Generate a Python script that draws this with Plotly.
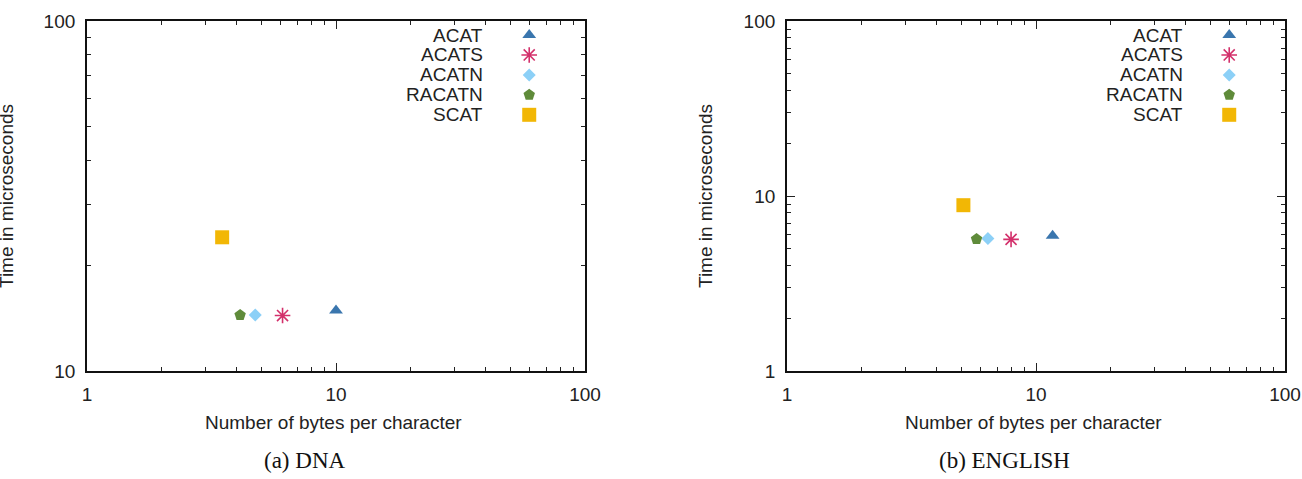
import plotly.graph_objects as go

# ---------------- data ----------------
series = ["ACAT", "ACATS", "ACATN", "RACATN", "SCAT"]
dna_bytes = [10.0, 6.1, 4.74, 4.12, 3.49]
dna_time = [14.9, 14.4, 14.45, 14.45, 24.1]
eng_bytes = [11.66, 7.94, 6.41, 5.77, 5.11]
eng_time = [5.93, 5.65, 5.72, 5.67, 8.86]
panel_titles = ["(a) DNA", "(b) ENGLISH"]
x_title = "Number of bytes per character"
y_title = "Time in microseconds"
x_ticks = [1, 10, 100]
y_ticks_dna = [10, 100]
y_ticks_eng = [1, 10, 100]

# ---------------- style ----------------
colors = {"ACAT": "#3a76ae", "ACATS": "#d3306b", "ACATN": "#8cd0f7",
          "RACATN": "#5f8b3a", "SCAT": "#f2b705"}
symbols = {"ACAT": "triangle-up", "ACATS": "asterisk-open", "ACATN": "diamond",
           "RACATN": "pentagon", "SCAT": "square"}
sizes = {"ACAT": 12, "ACATS": 13, "ACATN": 10, "RACATN": 12, "SCAT": 14}

W, H = 1302, 479
SANS = "Liberation Sans, Arial, Helvetica, sans-serif"
SERIF = "Liberation Serif, Times New Roman, serif"
FS = 19

def px_x(p):
    return p / W

def px_y(p):
    return 1 - p / H

dom_x1 = [px_x(87), px_x(585)]
dom_x2 = [px_x(787), px_x(1285)]
dom_y = [px_y(371), px_y(21)]

fig = go.Figure()

def marker_for(s):
    if s == "ACATS":
        return dict(symbol=symbols[s], size=sizes[s], color=colors[s],
                    line=dict(color=colors[s], width=1.6))
    return dict(symbol=symbols[s], size=sizes[s], color=colors[s],
                line=dict(width=0))

panels = [("x", "y", dna_bytes, dna_time, "x3", "y3"),
          ("x2", "y2", eng_bytes, eng_time, "x4", "y4")]

for xa, ya, xs, ys, lx, ly in panels:
    for i, s in enumerate(series):
        fig.add_trace(go.Scatter(x=[xs[i]], y=[ys[i]], mode="markers",
                                 marker=marker_for(s), xaxis=xa, yaxis=ya,
                                 showlegend=False, name=s))

# manual gnuplot-style legend (text right-aligned, key to the right)
leg_text_x = 0.80
leg_key_x = 0.888
leg_top = 0.96
leg_step = 0.057
for xa, ya, xs, ys, lx, ly in panels:
    for i, s in enumerate(series):
        fig.add_trace(go.Scatter(x=[leg_key_x], y=[leg_top - i * leg_step],
                                 mode="markers", marker=marker_for(s),
                                 xaxis=lx, yaxis=ly, showlegend=False,
                                 hoverinfo="skip"))
        fig.add_annotation(text=s, xref=f"{xa} domain", yref=f"{ya} domain",
                           x=leg_text_x, y=leg_top - i * leg_step,
                           xanchor="right", yanchor="middle", showarrow=False,
                           font=dict(family=SANS, size=FS, color="#222"))

minor_x = [2, 3, 4, 5, 6, 7, 8, 9, 20, 30, 40, 50, 60, 70, 80, 90]
minor_y_dna = [20, 30, 40, 50, 60, 70, 80, 90]
minor_y_eng = [2, 3, 4, 5, 6, 7, 8, 9, 20, 30, 40, 50, 60, 70, 80, 90]

def log_axis(domain, rng, ticks, minor, anchor, standoff):
    return dict(type="log", domain=domain, range=rng, anchor=anchor,
                tickvals=ticks, ticktext=[str(t) for t in ticks],
                ticks="inside", ticklen=8, tickwidth=1, tickcolor="#222",
                minor=dict(tickvals=minor, ticks="inside", ticklen=4,
                           tickwidth=1, tickcolor="#222"),
                showline=True, linecolor="#111", linewidth=1.8, mirror="ticks",
                showgrid=False, zeroline=False,
                tickfont=dict(family=SANS, size=FS, color="#222"),
                ticklabelstandoff=standoff, automargin=False)

fig.update_layout(
    width=W, height=H,
    margin=dict(l=0, r=0, t=0, b=0),
    paper_bgcolor="white", plot_bgcolor="white",
    xaxis=log_axis(dom_x1, [0, 2], x_ticks, minor_x, "y", 5),
    yaxis=log_axis(dom_y, [1, 2], y_ticks_dna, minor_y_dna, "x", 6),
    xaxis2=log_axis(dom_x2, [0, 2], x_ticks, minor_x, "y2", 5),
    yaxis2=log_axis(dom_y, [0, 2], y_ticks_eng, minor_y_eng, "x2", 6),
    xaxis3=dict(domain=dom_x1, range=[0, 1], overlaying="x", anchor="y3", visible=False),
    yaxis3=dict(domain=dom_y, range=[0, 1], overlaying="y", anchor="x3", visible=False),
    xaxis4=dict(domain=dom_x2, range=[0, 1], overlaying="x2", anchor="y4", visible=False),
    yaxis4=dict(domain=dom_y, range=[0, 1], overlaying="y2", anchor="x4", visible=False),
    showlegend=False,
)

# axis titles and captions
for xa, cx_px, ytitle_px, cap in [("x", 336, 6, panel_titles[0]),
                                   ("x2", 1036, 705, panel_titles[1])]:
    fig.add_annotation(text=x_title, xref="paper", yref="paper",
                       x=px_x(cx_px - 3), y=px_y(422), xanchor="center", yanchor="middle",
                       showarrow=False, font=dict(family=SANS, size=FS, color="#222"))
    fig.add_annotation(text=y_title, xref="paper", yref="paper",
                       x=px_x(ytitle_px), y=px_y(196), xanchor="center", yanchor="middle",
                       textangle=-90, showarrow=False,
                       font=dict(family=SANS, size=FS, color="#222"))
    fig.add_annotation(text=cap, xref="paper", yref="paper",
                       x=px_x(cx_px - 32), y=px_y(460), xanchor="center", yanchor="middle",
                       showarrow=False, font=dict(family=SERIF, size=23, color="#111"))

fig.write_html("out.html")
